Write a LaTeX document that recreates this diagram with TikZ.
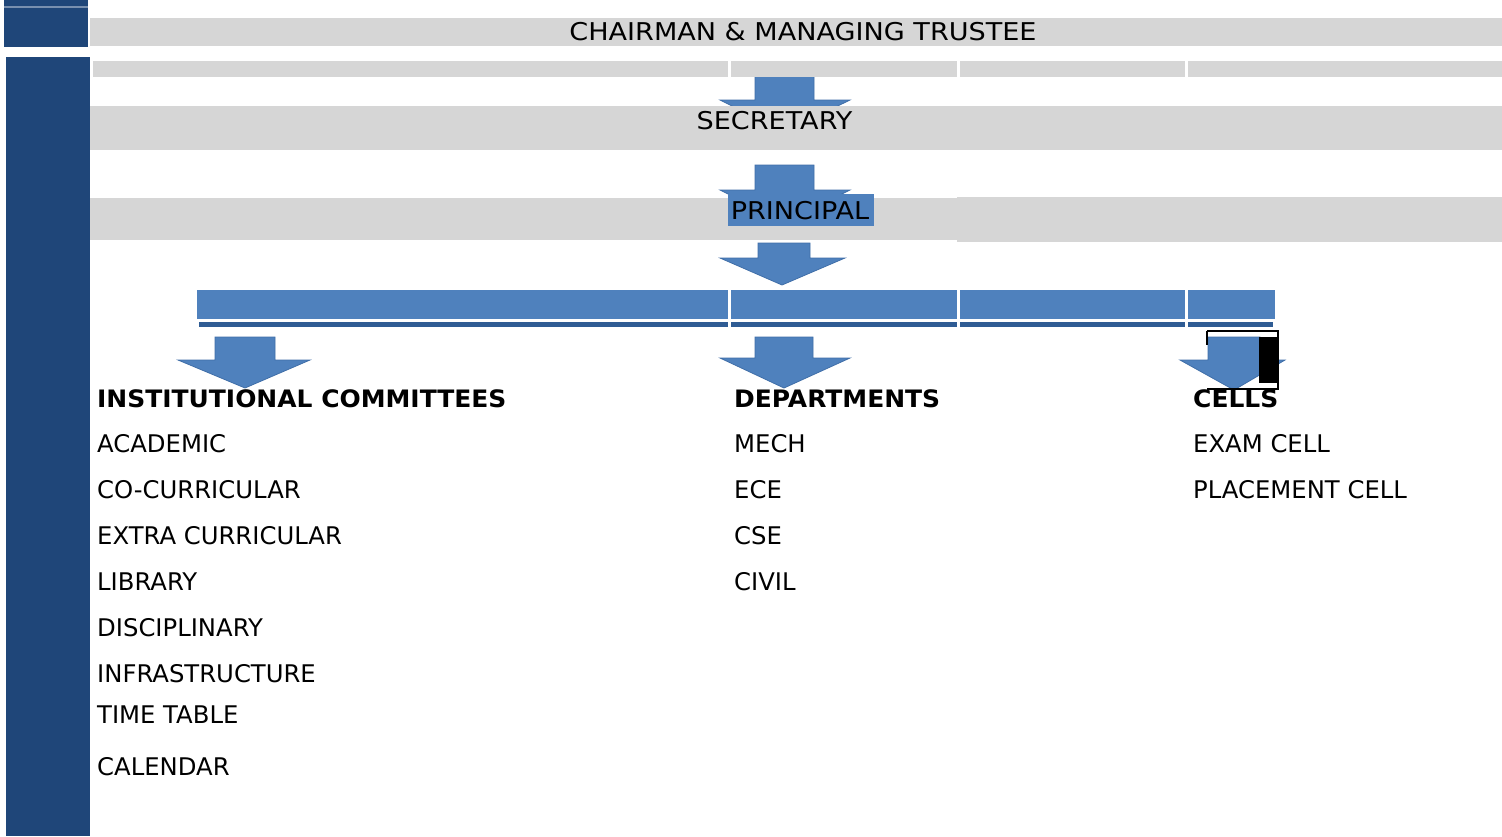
\documentclass[tikz,border=0pt]{standalone}
\usepackage{fontspec}
\setmainfont{DejaVu Sans}
\begin{document}
\begin{tikzpicture}[x=1pt,y=-1pt,
  graybar/.style={fill=barGray,draw=none},
  navy/.style={fill=navyBlue,draw=none},
  blockarrow/.style={fill=arrowBlue,draw=arrowEdge,line width=0.8pt,line join=miter},
  toplabel/.style={inner sep=0pt,font=\fontsize{24.5}{28}\selectfont,text=black},
  heading/.style={anchor=base west,inner sep=0pt,font=\fontsize{24}{28}\selectfont\bfseries,text=black},
  item/.style={anchor=base west,inner sep=0pt,font=\fontsize{24.3}{28}\selectfont,text=black}]
\definecolor{barGray}{HTML}{D6D6D6}
\definecolor{navyBlue}{HTML}{1F4679}
\definecolor{arrowBlue}{HTML}{4F81BD}
\definecolor{arrowEdge}{HTML}{3F6EA8}
\definecolor{barBlue}{HTML}{4F81BD}
\definecolor{darkLine}{HTML}{2F5C94}
\useasboundingbox (0,0) rectangle (1502,836);
\fill[white] (0,0) rectangle (1502,836);

% left navy bar
\fill[navy] (4,0) rectangle (88,6);
\fill[navyBlue!60!white] (4,6) rectangle (88,7.5);
\fill[navy] (4,7.5) rectangle (88,47);
\fill[navy] (6,57) rectangle (90,836);

% block arrows (behind bars)
\draw[blockarrow] (755,75) -- (814,75) -- (814,100) -- (850,100) -- (784.5,132) -- (720,100) -- (755,100) -- cycle;
\draw[blockarrow] (755,165) -- (814,165) -- (814,190) -- (850,190) -- (784.5,222) -- (720,190) -- (755,190) -- cycle;
\draw[blockarrow] (758,243) -- (810,243) -- (810,258) -- (845,258) -- (782,285) -- (720,258) -- (758,258) -- cycle;
\draw[blockarrow] (215,337) -- (275,337) -- (275,360) -- (310,360) -- (245,388) -- (178,360) -- (215,360) -- cycle;
\draw[blockarrow] (755,337) -- (813,337) -- (813,358) -- (850,358) -- (784,388) -- (720,358) -- (755,358) -- cycle;
\draw[blockarrow] (1208,337) -- (1260,337) -- (1260,360) -- (1285,360) -- (1234,390) -- (1180,360) -- (1208,360) -- cycle;

% gray bars
\fill[graybar] (90,18) rectangle (1502,46);
\fill[graybar] (93,61) rectangle (727.5,77);
\fill[graybar] (730.5,61) rectangle (956.5,77);
\fill[graybar] (959.5,61) rectangle (1184.5,77);
\fill[graybar] (1187.5,61) rectangle (1502,77);
\fill[graybar] (90,106) rectangle (1502,150);
\fill[graybar] (90,198) rectangle (957,240);
\fill[graybar] (957,197) rectangle (1502,242);

% blue distribution bar
\fill[barBlue] (197,290) rectangle (1275,319);
\fill[white] (205,319) rectangle (1270,322);
\fill[darkLine] (199,322) rectangle (1273,327);
\fill[white] (728,290) rectangle (730.5,328);
\fill[white] (957,290) rectangle (959.5,328);
\fill[white] (1185,290) rectangle (1187.5,328);

% artifact box near CELLS arrow
\draw[black,line width=1.2pt] (1207,331) -- (1278,331) -- (1278,389) -- (1207,389);
\draw[black,line width=1.2pt] (1207,331) -- (1207,345);
\fill[black] (1259,337) rectangle (1277,383);

% PRINCIPAL highlight
\fill[barBlue] (728,194) rectangle (874,226);

% top labels
\node[toplabel,anchor=base] (chair) at (803,40) {\scalebox{1.105}[1]{CHAIRMAN \& MANAGING TRUSTEE}};
\node[toplabel,anchor=base] (sec) at (774.5,129) {\scalebox{1.105}[1]{SECRETARY}};
\node[toplabel,anchor=base] (prin) at (800,219) {\scalebox{1.105}[1]{PRINCIPAL}};

% headings
\node[heading] (hic) at (97,407) {\scalebox{1.04}[1]{INSTITUTIONAL COMMITTEES}};
\node[heading] (hdep) at (734,407) {\scalebox{1.04}[1]{DEPARTMENTS}};
\node[heading] (hcell) at (1193,407) {\scalebox{1.04}[1]{CELLS}};

% committees
\node[item] (c1) at (97,452) {ACADEMIC};
\node[item] (c2) at (97,498) {CO-CURRICULAR};
\node[item] (c3) at (97,544) {EXTRA CURRICULAR};
\node[item] (c4) at (97,590) {LIBRARY};
\node[item] (c5) at (97,636) {DISCIPLINARY};
\node[item] (c6) at (97,682) {INFRASTRUCTURE};
\node[item] (c7) at (97,723) {TIME TABLE};
\node[item] (c8) at (97,775) {CALENDAR};

% departments
\node[item] (d1) at (734,452) {MECH};
\node[item] (d2) at (734,498) {ECE};
\node[item] (d3) at (734,544) {CSE};
\node[item] (d4) at (734,590) {CIVIL};

% cells
\node[item] (e1) at (1193,452) {EXAM CELL};
\node[item] (e2) at (1193,498) {PLACEMENT CELL};
\end{tikzpicture}
\end{document}
